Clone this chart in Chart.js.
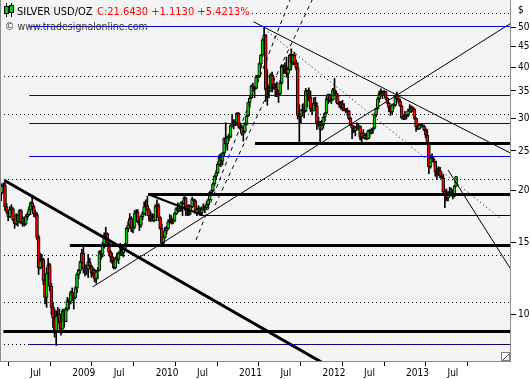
<!DOCTYPE html>
<html><head><meta charset="utf-8">
<script src="https://cdn.jsdelivr.net/npm/chart.js@4"></script>
<style>html,body{margin:0;padding:0;background:#fff;overflow:hidden}canvas{display:block}</style>
</head><body>
<canvas id="c" width="530" height="379" style="width:530px;height:379px"></canvas>
<script>
// ---- data (weekly bars, x = days since 2008-01-01) ----
const firstWeekDay = 55; // Mon 25 Feb 2008
const open = [
18.9,19.8,20.5,20.6,18.3,17.8,17.3,18.0,18.1,17.0,16.6,17.4,16.8,17.9,16.8,17.1,16.6,17.3,17.5,18.0,18.7,18.3,17.6,17.5,15.4,13.0,13.5,13.6,12.1,11.0,12.6,13.2,11.7,10.4,9.8,9.1,9.9,10.0,9.6,9.2,10.2,9.6,10.3,10.8,10.7,
11.3,11.1,11.0,11.6,12.5,12.8,13.4,14.1,12.9,12.8,12.9,13.4,13.1,12.6,12.8,12.2,12.7,12.8,14.2,14.0,14.8,15.6,15.7,14.9,14.2,13.8,13.5,13.0,13.7,13.6,14.1,14.2,14.1,14.4,14.8,16.2,16.5,17.1,16.1,16.3,17.6,17.7,16.8,16.5,17.3,17.6,18.3,18.4,18.0,17.4,17.1,17.3,
16.9,18.3,18.4,17.2,16.2,14.9,15.4,16.0,16.2,16.8,17.0,16.8,16.9,17.6,18.1,17.9,18.1,18.7,18.6,19.2,17.9,18.4,17.8,18.3,19.1,18.9,17.7,18.0,18.1,17.7,18.0,18.1,18.2,18.5,19.0,19.8,20.0,20.8,21.7,22.1,23.2,24.2,23.6,24.7,26.8,26.0,26.9,27.0,28.8,29.0,29.2,29.3,
30.9,28.7,28.6,27.6,27.9,29.0,30.4,32.8,33.6,35.9,35.8,35.5,37.8,38.1,40.8,42.8,46.6,47.9,35.3,35.4,35.0,38.3,36.2,35.7,35.2,35.0,34.4,36.6,40.1,39.8,39.5,38.6,39.5,42.8,41.1,42.8,40.8,39.9,30.5,30.3,31.4,31.6,31.3,35.0,34.4,33.8,31.7,31.3,32.6,32.2,29.3,29.1,
28.2,28.9,30.2,30.9,33.4,34.3,33.2,33.3,35.2,34.6,34.1,32.6,32.3,32.5,31.8,31.6,31.4,31.2,30.0,28.9,28.4,28.0,28.5,28.6,28.7,27.0,27.6,26.9,27.3,26.8,28.0,27.8,28.1,28.4,30.6,31.7,33.5,34.6,34.2,34.6,34.9,33.6,32.7,31.9,31.1,32.4,32.3,34.1,33.5,33.0,32.2,30.1,30.3,
30.6,30.5,31.3,31.4,31.9,31.6,30.0,28.6,28.3,28.9,28.8,28.7,28.1,27.3,26.0,22.9,24.1,23.9,23.6,22.2,22.3,22.4,21.7,21.5,19.9,19.5,19.2,19.8,19.7,19.8,19.4,20.5];
const high = [
20.0,20.8,20.9,21.3,18.6,17.9,18.3,18.5,18.2,17.1,17.6,17.5,18.0,18.0,17.3,17.2,17.5,17.7,18.3,18.8,19.5,18.4,17.9,17.7,15.6,14.1,14.0,13.7,12.3,13.0,13.7,13.3,11.9,10.7,10.3,10.2,10.4,10.3,9.9,10.3,10.3,10.4,11.0,10.9,11.4,
11.6,11.3,11.7,12.6,12.9,13.5,14.4,14.6,13.2,13.2,14.0,13.7,13.2,13.0,12.9,12.8,13.0,14.3,14.3,15.0,15.8,16.3,15.8,15.0,14.3,14.1,13.6,13.8,14.1,14.2,14.9,14.5,14.5,14.9,16.3,16.8,17.6,17.3,16.7,17.9,18.0,18.0,17.0,17.4,17.8,18.8,19.0,19.4,18.1,17.8,17.6,17.5,
18.5,19.0,18.6,17.3,16.6,15.6,16.3,16.4,17.0,17.5,17.4,17.1,17.7,18.2,18.7,18.3,18.8,18.9,19.6,19.3,18.4,18.5,18.4,19.3,19.1,19.0,18.2,18.4,18.2,18.3,18.6,18.4,18.8,19.1,19.9,20.1,20.9,21.8,22.4,23.5,24.5,24.6,24.8,26.9,29.3,27.2,27.5,29.0,30.7,29.8,29.8,31.0,
31.0,29.3,28.9,28.0,29.3,30.6,32.9,33.9,36.2,36.6,36.0,38.2,38.2,41.0,43.0,47.0,49.8,48.0,39.4,36.2,38.6,38.9,37.9,36.5,36.8,35.1,37.1,40.5,40.5,41.0,42.3,40.0,43.0,44.3,43.0,43.4,41.6,41.0,32.4,31.5,32.5,32.7,35.5,35.2,35.6,35.0,32.6,33.7,33.8,32.8,30.2,29.5,
29.7,30.3,31.0,34.0,34.4,34.4,33.6,35.5,37.5,35.0,34.5,33.0,33.0,33.2,32.6,31.7,31.8,31.4,30.2,29.0,28.8,28.7,29.3,29.1,28.8,27.8,28.2,27.6,27.6,28.1,28.2,28.3,28.5,30.9,31.8,33.8,35.0,35.4,35.0,35.1,34.9,33.8,32.8,32.2,32.5,32.6,34.2,34.8,33.8,33.5,32.3,30.6,31.2,
30.7,31.6,32.4,32.2,32.0,31.7,30.1,29.1,29.0,29.1,29.1,28.9,28.4,28.2,26.2,24.4,24.6,24.1,23.6,22.7,22.9,22.8,22.1,21.9,20.1,20.2,19.9,20.4,20.3,20.1,20.6,21.7];
const low = [
18.8,19.6,19.8,17.9,17.6,16.9,17.2,17.6,16.9,16.2,16.5,16.4,16.7,16.6,16.4,16.4,16.5,17.0,17.4,17.5,18.1,17.3,17.2,15.2,12.5,12.9,13.2,11.8,10.6,10.4,12.6,11.4,10.0,9.3,8.8,8.4,9.5,9.2,8.9,9.2,9.3,9.6,10.2,10.3,10.6,
10.8,10.3,10.9,11.3,12.2,12.6,13.3,12.6,12.4,12.5,12.3,12.9,12.3,12.4,12.0,11.9,12.2,12.8,13.6,13.8,14.5,15.0,14.7,14.0,13.4,13.3,12.9,12.9,13.5,13.3,14.0,13.9,13.8,14.3,14.6,15.9,16.4,15.9,15.8,16.2,17.3,16.7,16.0,16.3,17.0,17.5,17.4,17.9,16.9,16.8,16.9,16.8,
16.9,18.0,16.9,16.1,14.7,14.8,15.3,15.7,16.1,16.7,16.6,16.6,16.8,17.5,17.7,17.8,17.8,17.4,18.5,17.4,17.4,17.4,17.5,18.2,18.3,17.6,17.4,17.7,17.4,17.5,17.9,17.7,18.0,18.3,19.0,19.6,19.9,20.6,21.4,22.0,23.0,22.9,23.1,24.3,25.5,25.1,26.5,26.9,28.6,28.3,28.8,28.9,
28.4,28.2,27.3,26.4,27.7,28.9,30.3,31.9,33.5,34.9,33.7,35.4,36.8,37.7,39.8,42.5,46.0,33.0,32.3,33.7,34.9,34.8,35.4,33.9,33.9,32.8,34.2,36.4,38.5,38.6,37.8,35.3,39.2,39.4,40.5,40.6,39.3,29.9,26.1,29.3,30.5,30.1,31.1,32.0,33.1,31.2,30.6,31.3,31.9,28.2,28.7,26.2,
28.1,28.4,29.6,30.8,32.6,32.9,32.6,33.2,34.2,32.8,32.5,31.9,31.6,31.3,31.3,31.0,30.5,29.8,28.8,26.8,27.7,27.2,28.1,28.2,26.6,26.1,26.8,26.7,26.6,26.7,27.0,27.5,27.6,28.3,30.3,31.6,32.9,34.0,33.5,34.2,33.3,32.5,31.1,30.5,30.8,31.7,32.1,33.4,32.7,32.1,29.9,29.8,29.8,
29.9,30.3,31.1,31.0,31.2,29.8,27.9,28.2,28.2,28.5,28.6,28.0,26.9,25.9,22.0,22.7,23.5,23.4,21.7,21.3,21.8,21.5,21.4,19.6,18.2,18.9,18.9,19.4,19.4,19.1,19.3,20.5];
const close = [
19.8,20.5,20.6,18.3,17.8,17.3,18.0,18.1,17.0,16.6,17.4,16.8,17.9,16.8,17.1,16.6,17.3,17.5,18.0,18.7,18.3,17.6,17.5,15.4,13.0,13.5,13.6,12.1,11.0,12.6,13.2,11.7,10.4,9.8,9.1,9.9,10.0,9.6,9.2,10.2,9.6,10.3,10.8,10.7,11.3,
11.1,11.0,11.6,12.5,12.8,13.4,14.1,12.9,12.8,12.9,13.4,13.1,12.6,12.8,12.2,12.7,12.8,14.2,14.0,14.8,15.6,15.7,14.9,14.2,13.8,13.5,13.0,13.7,13.6,14.1,14.2,14.1,14.4,14.8,16.2,16.5,17.1,16.1,16.3,17.6,17.7,16.8,16.5,17.3,17.6,18.3,18.4,18.0,17.4,17.1,17.3,16.9,
18.3,18.4,17.2,16.2,14.9,15.4,16.0,16.2,16.8,17.0,16.8,16.9,17.6,18.1,17.9,18.1,18.7,18.6,19.2,17.9,18.4,17.8,18.3,19.1,18.9,17.7,18.0,18.1,17.7,18.0,18.1,18.2,18.5,19.0,19.8,20.0,20.8,21.7,22.1,23.2,24.2,23.6,24.7,26.8,26.0,26.9,27.0,28.8,29.0,29.2,29.3,30.9,
28.7,28.6,27.6,27.9,29.0,30.4,32.8,33.6,35.9,35.8,35.5,37.8,38.1,40.8,42.8,46.6,47.9,35.3,35.4,35.0,38.3,36.2,35.7,35.2,35.0,34.4,36.6,40.1,39.8,39.5,38.6,39.5,42.8,41.1,42.8,40.8,39.9,30.5,30.3,31.4,31.6,31.3,35.0,34.4,33.8,31.7,31.3,32.6,32.2,29.3,29.1,28.2,
28.9,30.2,30.9,33.4,34.3,33.2,33.3,35.2,34.6,34.1,32.6,32.3,32.5,31.8,31.6,31.4,31.2,30.0,28.9,28.4,28.0,28.5,28.6,28.7,27.0,27.6,26.9,27.3,26.8,28.0,27.8,28.1,28.4,30.6,31.7,33.5,34.6,34.2,34.6,34.9,33.6,32.7,31.9,31.1,32.4,32.3,34.1,33.5,33.0,32.2,30.1,30.3,30.6,
30.5,31.3,31.4,31.9,31.6,30.0,28.6,28.3,28.9,28.8,28.7,28.1,27.3,26.0,22.9,24.1,23.9,23.6,22.2,22.3,22.4,21.7,21.5,19.9,19.5,19.2,19.8,19.7,19.8,19.4,20.5,21.643];

// x axis labels (day index of month start)
const xTickDays   = [182, 366, 547, 731, 912, 1096, 1277, 1461, 1643, 1827, 2008];
const xTickLabels = ['Jul','2009','Jul','2010','Jul','2011','Jul','2012','Jul','2013','Jul'];
const yTickValues = [10, 15, 20, 25, 30, 35, 40, 45, 50];
const currencyTickValue = 55.1;
const xRange = [54.1, 2286];
const yRange = [7.70, 58.28];

// drawn horizontal levels (price) and their start day
const dottedLevels = [54.1, 37.9, 30.6, 21.3, 13.92, 10.70, 8.46];
const blueLevels   = [50.1, 34.1, 29.2, 24.3, 8.46];
const blueFromDay  = 182;
const thickLevels  = [26.1, 19.55, 14.69, 9.10];
const thickFromDay = [1170, 703, 360, 69];
const thinLevels   = [17.45];
const thinFromDay  = [929];
// trend lines: [day, price] pairs
const trendThick   = [[76, 21.16], [1498, 7.445]];
const trendShort   = [[703, 19.61], [942, 17.43]];
const trendUp      = [[460, 11.67], [2350, 53.7]];
const trendDown    = [[1163, 51.6], [2350, 23.73]];
const trendSteep   = [[2015, 22.46], [2286, 12.97]];
const trendDotted  = [[1227, 48.8], [2242, 17.16]];
const channelA     = [[912, 15.17], [1323, 58.28]];
const channelB     = [[995, 18.46], [1420, 58.28]];

const titleName  = 'SILVER USD/OZ';
const titleQuote = 'C:21.6430 +1.1130 +5.4213%';
const credit     = '\u00A9 www.tradesignalonline.com';

// ---- build ----
const UP = '#00d000', DOWN = '#ff0000', BLUE = '#0000e6';
const FONT = '"DejaVu Sans Condensed", "DejaVu Sans", sans-serif';
const weekDays = open.map((_, i) => firstWeekDay + 7 * i);
const bodies = weekDays.map((d, i) => ({x: d, y: [open[i], close[i]]}));
const wicks  = weekDays.map((d, i) => ({x: d, y: [low[i], high[i]]}));

function line(pts, color, width, dash, level) {
  return {type: 'line', data: pts.map(p => ({x: p[0], y: p[1]})), borderColor: color,
    borderWidth: width, borderDash: dash || [], pointRadius: 0, fill: false, tension: 0,
    order: 0, borderCapStyle: 'butt', snapLevel: level};
}
const lineSets = [];
dottedLevels.forEach(v => lineSets.push(line([[xRange[0], v], [xRange[1], v]], '#000', 1, [1, 3], v)));
blueLevels.forEach(v => lineSets.push(line([[blueFromDay, v], [xRange[1], v]], BLUE, 1, null, v)));
thickLevels.forEach((v, k) => lineSets.push(line([[thickFromDay[k], v], [xRange[1], v]], '#000', 3, null, v)));
thinLevels.forEach((v, k) => lineSets.push(line([[thinFromDay[k], v], [xRange[1], v]], '#000', 1, null, v)));
lineSets.push(line(trendThick, '#000', 3));
lineSets.push(line(trendShort, '#000', 2));
lineSets.push(line(trendUp, '#000', 1));
lineSets.push(line(trendDown, '#000', 1));
lineSets.push(line(trendSteep, '#000', 1));
lineSets.push(line(trendDotted, '#000', 1, [1, 3]));
lineSets.push(line(channelA, '#000', 1, [4, 4]));
lineSets.push(line(channelB, '#000', 1, [4, 4]));

// keeps horizontal level lines on whole device pixels (rendering only)
const crisp = {
  id: 'crisp',
  beforeDatasetDraw(chart, args) {
    const ds = chart.data.datasets[args.index];
    chart.ctx.save();
    if (ds.snapLevel !== undefined) {
      const y = chart.scales.y.getPixelForValue(ds.snapLevel);
      const w = ds.borderWidth;
      const target = (w % 2 === 1) ? Math.floor(y) + 0.5 : Math.round(y);
      chart.ctx.translate(0, target - y);
    }
  },
  afterDatasetDraw(chart) { chart.ctx.restore(); }
};

const decor = {
  id: 'decor',
  beforeDraw(chart) {
    const {ctx, chartArea: a} = chart;
    ctx.save();
    ctx.fillStyle = '#ffffff';
    ctx.fillRect(0, 0, chart.width, chart.height);
    ctx.fillStyle = '#f4f4f4';
    ctx.fillRect(a.left, a.top, a.right - a.left, a.bottom - a.top);
    ctx.restore();
  },
  afterDraw(chart) {
    const {ctx, chartArea: a} = chart;
    ctx.save();
    ctx.strokeStyle = '#8c8c8c'; ctx.lineWidth = 1;
    ctx.beginPath(); ctx.moveTo(a.left + 0.5, a.top); ctx.lineTo(a.left + 0.5, a.bottom); ctx.stroke();
    // title background
    ctx.fillStyle = '#f4f4f4';
    ctx.fillRect(a.left + 1, a.top + 1, 249, 17);
    // icon
    ctx.fillStyle = '#000';
    ctx.fillRect(a.left + 6, a.top + 3, 1, 14);
    ctx.fillRect(a.left + 11, a.top + 3, 1, 14);
    ctx.fillRect(a.left + 4, a.top + 6, 5, 8);
    ctx.fillRect(a.left + 9, a.top + 5, 5, 8);
    ctx.fillStyle = UP;
    ctx.fillRect(a.left + 5, a.top + 7, 3, 6);
    ctx.fillRect(a.left + 10, a.top + 6, 3, 6);
    // texts
    ctx.font = '11px ' + FONT;
    ctx.textBaseline = 'alphabetic';
    ctx.fillStyle = '#000';
    ctx.fillText(titleName, a.left + 17, a.top + 15);
    ctx.fillStyle = '#ff0000';
    ctx.fillText(titleQuote, a.left + 97, a.top + 15);
    ctx.font = '10.5px ' + FONT;
    ctx.fillStyle = '#333';
    ctx.fillText(credit, a.left + 5, a.top + 30);
    // resize grip
    ctx.fillStyle = '#fff';
    ctx.fillRect(a.right - 8, a.bottom - 8, 7, 7);
    ctx.strokeStyle = '#808080';
    ctx.strokeRect(a.right - 8.5, a.bottom - 8.5, 8, 8);
    ctx.strokeStyle = '#404040';
    ctx.beginPath(); ctx.moveTo(a.right - 7, a.bottom - 1); ctx.lineTo(a.right - 1, a.bottom - 7); ctx.stroke();
    ctx.restore();
  }
};

new Chart(document.getElementById('c'), {
  type: 'bar',
  data: {
    datasets: [
      {data: bodies, order: 1, grouped: false, barThickness: 3, borderWidth: 1, borderColor: '#000',
       borderSkipped: false,
       backgroundColor: c => (close[c.dataIndex] >= open[c.dataIndex] ? UP : DOWN)},
      {data: wicks, order: 2, grouped: false, barThickness: 1, borderWidth: 0, backgroundColor: '#000'},
      ...lineSets
    ]
  },
  options: {
    responsive: false, animation: false, devicePixelRatio: 1, events: [],
    layout: {padding: 0},
    plugins: {legend: {display: false}, tooltip: {enabled: false}},
    scales: {
      x: {
        type: 'linear', min: xRange[0], max: xRange[1], offset: false,
        grid: {drawOnChartArea: false, drawTicks: true, tickLength: 5, tickColor: '#000'},
        border: {display: true, color: '#8c8c8c'},
        ticks: {autoSkip: false, maxRotation: 0, align: 'start', padding: 1, labelOffset: 1,
          color: '#000', font: {family: FONT, size: 10},
          callback: v => { const k = xTickDays.indexOf(v); return k >= 0 ? xTickLabels[k] : ''; }},
        afterBuildTicks: s => { s.ticks = xTickDays.map(v => ({value: v})); },
        afterFit: s => { s.height = 18; s.paddingLeft = 0; s.paddingRight = 0; }
      },
      y: {
        type: 'logarithmic', position: 'right', min: yRange[0], max: yRange[1],
        grid: {drawOnChartArea: false, drawTicks: true, tickLength: 6,
          tickColor: c => (c.tick && c.tick.value === currencyTickValue ? 'rgba(0,0,0,0)' : '#000')},
        border: {display: true, color: '#8c8c8c'},
        ticks: {padding: 2, color: '#000', font: {family: FONT, size: 10},
          callback: v => (v === currencyTickValue ? '$' : String(v))},
        afterBuildTicks: s => { s.ticks = yTickValues.concat([currencyTickValue]).map(v => ({value: v})); },
        afterFit: s => { s.width = 20; s.paddingTop = 0; s.paddingBottom = 0; }
      }
    }
  },
  plugins: [decor, crisp]
});
</script>
</body></html>
